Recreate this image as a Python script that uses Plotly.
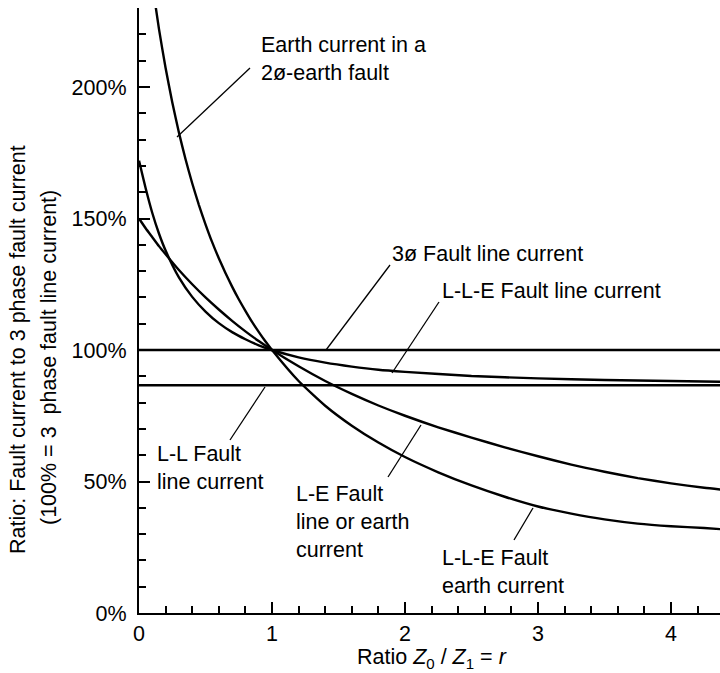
import plotly.graph_objects as go

# ---------------- data ----------------
r_le = [0, 0.05, 0.1, 0.15, 0.2, 0.3, 0.4, 0.5, 0.6, 0.7, 0.8, 0.9, 1.0, 1.2, 1.4, 1.6, 1.8,
        2.0, 2.25, 2.5, 2.75, 3.0, 3.25, 3.5, 3.75, 4.0, 4.25, 4.4]
le_line_or_earth = [150, 146.3, 142.9, 139.5, 136.4, 130.4, 125.0, 120.0, 115.4, 111.1, 107.1,
                    103.4, 100, 93.8, 88.2, 83.3, 78.9, 75.0, 70.6, 66.7, 63.0, 59.6, 56.4,
                    53.7, 51.3, 49.3, 47.6, 46.8]

r_lle_earth = [0.1, 0.15, 0.2, 0.25, 0.3, 0.35, 0.4, 0.45, 0.5, 0.55, 0.6, 0.65, 0.7, 0.75,
               0.8, 0.85, 0.9, 0.95, 1.0, 1.2, 1.4, 1.6, 1.8, 2.0, 2.25, 2.5, 2.75, 3.0,
               3.25, 3.5, 3.75, 4.0, 4.25, 4.4]
lle_earth = [239.2, 222.1, 207.2, 194.2, 182.7, 172.5, 163.4, 155.2, 147.8, 141.0, 134.9,
             129.3, 124.1, 119.3, 114.9, 110.7, 106.9, 103.3, 100, 88.2, 78.8, 71.2, 64.8,
             59.3, 53.5, 48.5, 44.2, 40.5, 37.8, 35.6, 34.0, 33.0, 32.3, 31.8]

r_lle_line = [0, 0.05, 0.1, 0.15, 0.2, 0.3, 0.4, 0.5, 0.6, 0.7, 0.8, 0.9, 1.0, 1.2, 1.4, 1.6,
              1.8, 2.0, 2.5, 3.0, 3.5, 4.0, 4.4]
lle_line = [172, 161.5, 152.1, 144.3, 137.8, 127.6, 120.2, 114.6, 110.2, 106.8, 104.1, 101.8,
            100, 97.2, 95.2, 93.7, 92.5, 91.7, 90.1, 89.2, 88.6, 88.2, 87.9]

r_flat = [0, 4.4]
three_phase_line = [100, 100]
ll_line = [86.6, 86.6]

y_ticks = [0, 50, 100, 150, 200]
y_tick_text = ["0%", "50%", "100%", "150%", "200%"]
x_ticks = [0, 1, 2, 3, 4]

labels = {
    "earth": "Earth current in a<br>2ø-earth fault",
    "3ph": "3ø Fault line current",
    "lle_line": "L-L-E Fault line current",
    "ll": "L-L Fault<br>line current",
    "le": "L-E Fault<br>line or earth<br>current",
    "lle_earth": "L-L-E Fault<br>earth current",
}

# ---------------- layout geometry ----------------
W, H = 720, 673
L, R, T, B = 139, 0, 8, 60
PW, PH = W - L - R, H - T - B

def px(x):
    return (x - L) / PW

def py(y):
    return (H - B - y) / PH

FONT = "Liberation Sans, Arial, Helvetica, sans-serif"
FS = 21.5

fig = go.Figure()
for xs, ys in [(r_le, le_line_or_earth), (r_lle_earth, lle_earth), (r_lle_line, lle_line),
               (r_flat, three_phase_line), (r_flat, ll_line)]:
    fig.add_trace(go.Scatter(x=xs, y=ys, mode="lines",
                             line=dict(color="black", width=2.4, shape="spline", smoothing=0.5),
                             showlegend=False, hoverinfo="skip"))

annots = []
def text(t, x, y):
    annots.append(dict(text=t, x=px(x), y=py(y), xref="paper", yref="paper",
                       xanchor="left", yanchor="top", align="left", showarrow=False,
                       font=dict(family=FONT, size=FS, color="black")))

text(labels["earth"], 259, 31)
text(labels["3ph"], 390, 240)
text(labels["lle_line"], 440, 277)
text(labels["ll"], 155, 440)
text(labels["le"], 294, 480)
text(labels["lle_earth"], 440, 544)

# axis titles
annots.append(dict(text="Ratio: Fault current to 3 phase fault current", x=px(18), y=py(350),
                   xref="paper", yref="paper", xanchor="center", yanchor="middle",
                   textangle=-90, showarrow=False, font=dict(family=FONT, size=FS, color="black")))
annots.append(dict(text="(100% = 3  phase fault line current)", x=px(49), y=py(358),
                   xref="paper", yref="paper", xanchor="center", yanchor="middle",
                   textangle=-90, showarrow=False, font=dict(family=FONT, size=FS, color="black")))
annots.append(dict(text="Ratio <i>Z</i><sub>0</sub> / <i>Z</i><sub>1</sub> = <i>r</i>",
                   x=px(432), y=py(658), xref="paper", yref="paper", xanchor="center",
                   yanchor="middle", showarrow=False,
                   font=dict(family=FONT, size=FS, color="black")))

shapes = []
for (x0, y0, x1, y1) in [(250, 68, 177, 137), (390, 265, 326, 350), (439, 302, 392, 373),
                         (230, 440, 265, 387), (388, 477, 421, 425), (514, 540, 533, 508)]:
    shapes.append(dict(type="line", xref="paper", yref="paper", x0=px(x0), y0=py(y0),
                       x1=px(x1), y1=py(y1), line=dict(color="black", width=1.3)))

fig.update_layout(
    width=W, height=H, margin=dict(l=L, r=R, t=T, b=B),
    paper_bgcolor="white", plot_bgcolor="white",
    annotations=annots, shapes=shapes,
    font=dict(family=FONT, size=FS, color="black"),
    xaxis=dict(range=[0, PW / 133.0], tickvals=x_ticks, ticks="inside", ticklen=11,
               tickwidth=1.8, tickcolor="black", showline=True, linecolor="black",
               linewidth=2.2, showgrid=False, zeroline=False, ticklabelstandoff=0,
               minor=dict(dtick=0.2, ticks="inside", ticklen=7, tickwidth=1.5,
                          tickcolor="black"),
               tickfont=dict(family=FONT, size=FS)),
    yaxis=dict(range=[0, PH / 2.63], tickvals=y_ticks, ticktext=y_tick_text,
               ticks="inside", ticklen=11, tickwidth=1.8, tickcolor="black", showline=True,
               linecolor="black", linewidth=2.2, showgrid=False, zeroline=False,
               ticklabelstandoff=6,
               minor=dict(dtick=10, ticks="inside", ticklen=7, tickwidth=1.5,
                          tickcolor="black"),
               tickfont=dict(family=FONT, size=FS)),
)

fig.write_html("out.html")
